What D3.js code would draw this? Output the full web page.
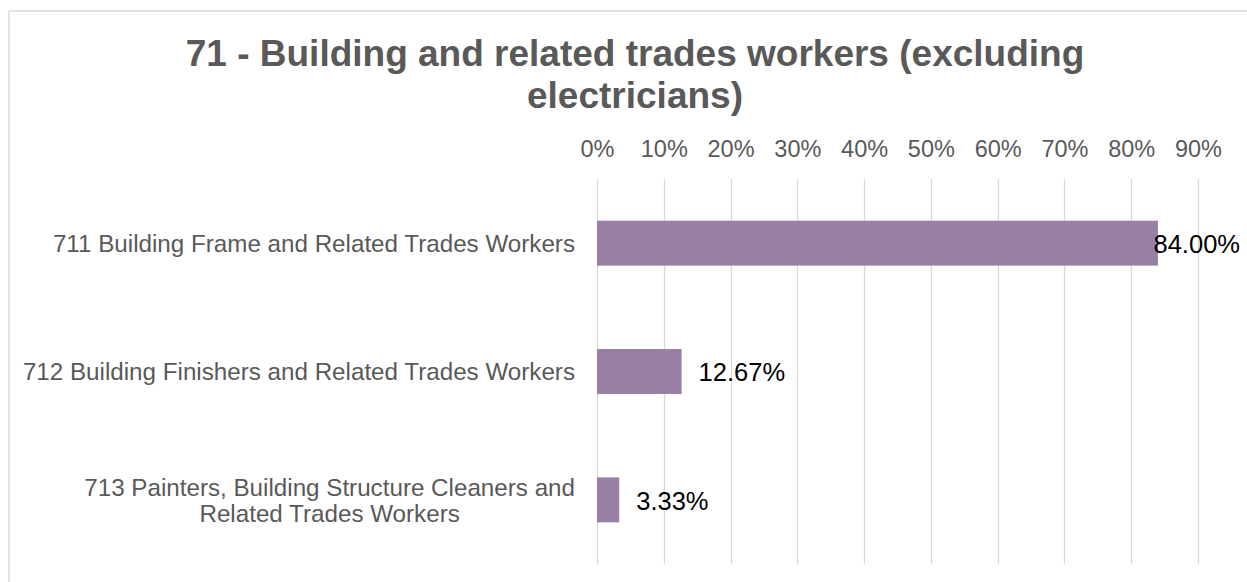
<!DOCTYPE html>
<html>
<head>
<meta charset="utf-8">
<script src="https://cdn.jsdelivr.net/npm/d3@7"></script>
<style>
  html, body { margin: 0; padding: 0; background: #fff; }
  svg { display: block; font-family: Arial, "Liberation Sans", sans-serif; }
</style>
</head>
<body>
<svg id="chart" width="1247" height="582"></svg>
<script>
const titleLines = ["71 - Building and related trades workers (excluding", "electricians)"];
const categories = [
  "711 Building Frame and Related Trades Workers",
  "712 Building Finishers and Related Trades Workers",
  "713 Painters, Building Structure Cleaners and Related Trades Workers"
];
const categoryLines = [
  ["711 Building Frame and Related Trades Workers"],
  ["712 Building Finishers and Related Trades Workers"],
  ["713 Painters, Building Structure Cleaners and", "Related Trades Workers"]
];
const values = [0.84, 0.1267, 0.0333];
const valueLabels = ["84.00%", "12.67%", "3.33%"];
const tickValues = [0, 0.1, 0.2, 0.3, 0.4, 0.5, 0.6, 0.7, 0.8, 0.9];

const svg = d3.select("#chart");
const W = 1247, H = 582;

// chart border
svg.append("rect")
  .attr("x", 9).attr("y", 11)
  .attr("width", W).attr("height", H)
  .attr("fill", "none").attr("stroke", "#d9d9d9").attr("stroke-width", 1.5);

// title
const title = svg.append("text")
  .attr("text-anchor", "middle")
  .attr("fill", "#595959")
  .attr("font-weight", "bold")
  .attr("font-size", 37);
titleLines.forEach((t, i) => {
  title.append("tspan").attr("x", 635).attr("y", 66 + i * 42).text(t);
});

const plot = { left: 597, right: 1198, top: 179, bottom: 564 };
const x = d3.scaleLinear().domain([0, 0.9]).range([plot.left, plot.right]);
const y = d3.scaleBand().domain(categories).range([plot.top, plot.bottom]).paddingInner(0.65).paddingOuter(0.325);

// gridlines
svg.append("g").selectAll("line").data(tickValues).join("line")
  .attr("x1", d => Math.round(x(d)) + 0.5).attr("x2", d => Math.round(x(d)) + 0.5)
  .attr("y1", plot.top).attr("y2", plot.bottom)
  .attr("stroke", "#d9d9d9").attr("stroke-width", 1.3);

// top axis tick labels
const axis = d3.axisTop(x).tickValues(tickValues).tickFormat(d3.format(".0%")).tickSize(0).tickPadding(0);
const gAxis = svg.append("g").attr("transform", "translate(0,157)").call(axis);
gAxis.select(".domain").remove();
gAxis.selectAll("text")
  .attr("font-size", 23.5).attr("fill", "#595959")
  .attr("font-family", "Arial, 'Liberation Sans', sans-serif")
  .attr("dy", 0);

// bars
svg.append("g").selectAll("rect").data(values).join("rect")
  .attr("x", x(0))
  .attr("y", (d, i) => y(categories[i]))
  .attr("width", d => x(d) - x(0))
  .attr("height", y.bandwidth())
  .attr("fill", "#977fa5");

// category labels
const labelRight = 575;
categories.forEach((c, i) => {
  const lines = categoryLines[i];
  const lh = 26;
  const cy = y(c) + y.bandwidth() / 2;
  const t = svg.append("text")
    .attr("font-size", 24.2).attr("fill", "#595959")
    .attr("text-anchor", "middle");
  const spans = lines.map((ln, j) =>
    t.append("tspan").attr("y", cy + (j - (lines.length - 1) / 2) * lh).attr("dy", "0.36em").text(ln));
  let maxW = 0;
  spans.forEach(s => { maxW = Math.max(maxW, s.node().getComputedTextLength()); });
  spans.forEach(s => s.attr("x", labelRight - maxW / 2));
});

// data labels
const rightLimit = 1240;
values.forEach((v, i) => {
  const t = svg.append("text")
    .attr("font-size", 25.5).attr("fill", "#000")
    .attr("y", y(categories[i]) + y.bandwidth() / 2)
    .attr("dy", "0.38em")
    .text(valueLabels[i]);
  const w = t.node().getComputedTextLength();
  t.attr("x", Math.min(x(v) + 17, rightLimit - w));
});
</script>
</body>
</html>
